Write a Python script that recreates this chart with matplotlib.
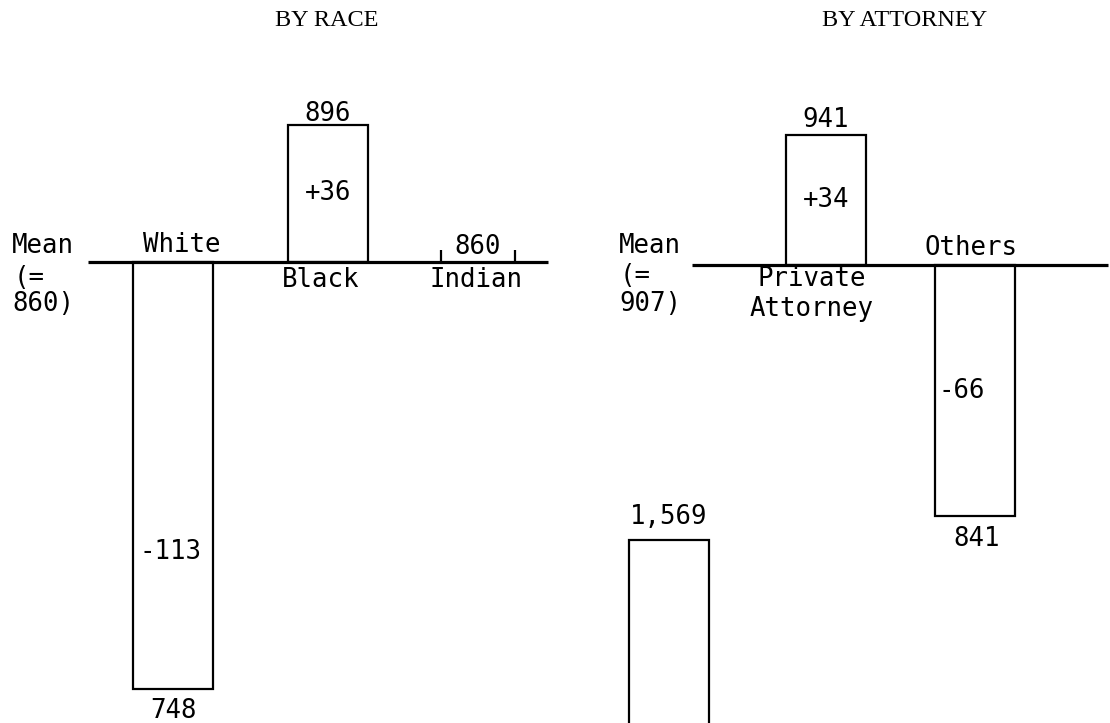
import matplotlib
matplotlib.use("Agg")
import matplotlib.pyplot as plt

# ---------------- data ----------------
race_categories = ["White", "Black", "Indian"]
race_values = [748, 896, 860]
race_mean = 860
race_dev_labels = ["-113", "+36", ""]

attorney_categories = ["Private\nAttorney", "Others"]
attorney_values = [941, 841]
attorney_mean = 907
attorney_dev_labels = ["+34", "-66"]

cutoff_value = 1569          # bar of the next (cut-off) panel
cutoff_label = "1,569"

# ---------------- layout ----------------
W, H, DPI = 1110, 723, 100
S = 3.81                     # pixels per unit
MONO = "DejaVu Sans Mono"
FS = 18.5

fig = plt.figure(figsize=(W / DPI, H / DPI), dpi=DPI)
fig.patch.set_facecolor("white")


def panel(base_px):
    ax = fig.add_axes([0, 0, 1, 1])
    ax.set_xlim(0, W)
    ax.set_ylim(-(H - base_px) / S, base_px / S)
    ax.axis("off")
    ax.patch.set_alpha(0)
    return ax


axp = fig.add_axes([0, 0, 1, 1])
axp.set_xlim(0, W)
axp.set_ylim(H, 0)
axp.axis("off")
axp.patch.set_alpha(0)


def ptext(x, y, s, **kw):
    kw.setdefault("ha", "center")
    kw.setdefault("va", "center")
    kw.setdefault("family", MONO)
    kw.setdefault("fontsize", FS)
    axp.text(x, y, s, color="black", **kw)


# titles
ptext(327, 20, "BY RACE", family="Liberation Serif", fontsize=17.5)
ptext(905, 20, "BY ATTORNEY", family="Liberation Serif", fontsize=17.5)

# ================= BY RACE =================
axL = panel(262)
axL.plot([88, 548], [0, 0], color="black", lw=2.3, solid_capstyle="butt")
race_x = [173, 328, 478]
race_inside_frac = [0.68, 0.5, 0.5]
race_name_pos = [(182, 245), (321, 280), (476, 280)]
for i, (cat, v) in enumerate(zip(race_categories, race_values)):
    h = v - race_mean
    x = race_x[i]
    if h != 0:
        axL.bar(x, h, width=80, bottom=0, fill=False, edgecolor="black", lw=1.6)
        if h > 0:
            axL.annotate(str(v), (x, h), xytext=(0, 8), textcoords="offset points",
                         ha="center", va="center", family=MONO, fontsize=FS)
        else:
            axL.annotate(str(v), (x, h), xytext=(0, -16), textcoords="offset points",
                         ha="center", va="center", family=MONO, fontsize=FS)
        axL.text(x - 3 if h < 0 else x, h * race_inside_frac[i], race_dev_labels[i],
                 ha="center", va="center", family=MONO, fontsize=FS)
    else:
        axL.vlines([x - 37, x + 37], 0, 3.2, color="black", lw=1.6)
        axL.annotate(str(v), (x, 0), xytext=(0, 11), textcoords="offset points",
                     ha="center", va="center", family=MONO, fontsize=FS)
    ptext(*race_name_pos[i], cat)

ptext(12, 246, "Mean", ha="left")
ptext(14, 278, "(=", ha="left")
ptext(12, 304, f"{race_mean})", ha="left")

# ================= BY ATTORNEY =================
axR = panel(265)
axR.plot([692, 1108], [0, 0], color="black", lw=2.3, solid_capstyle="butt")
att_x = [826, 975]
att_inside_x = [826, 962]
att_name_pos = [(812, 279), (971, 248)]
for i, (cat, v) in enumerate(zip(attorney_categories, attorney_values)):
    h = v - attorney_mean
    x = att_x[i]
    axR.bar(x, h, width=80, bottom=0, fill=False, edgecolor="black", lw=1.6)
    off = 11 if h > 0 else -16
    axR.annotate(str(v), (x + (0 if h > 0 else 2), h), xytext=(0, off),
                 textcoords="offset points", ha="center", va="center",
                 family=MONO, fontsize=FS)
    axR.text(att_inside_x[i], h * 0.5, attorney_dev_labels[i],
             ha="center", va="center", family=MONO, fontsize=FS)
    nx, ny = att_name_pos[i]
    for j, line in enumerate(cat.split("\n")):
        ptext(nx, ny + 30 * j, line)

ptext(619, 246, "Mean", ha="left")
ptext(620, 276, "(=", ha="left")
ptext(619, 304, f"{attorney_mean})", ha="left")

# ================= cut-off panel below =================
top_px = 540
axC = fig.add_axes([0, 0, 1, 1])
axC.set_xlim(0, W)
ylo = cutoff_value - (H - top_px) / S
axC.set_ylim(ylo, cutoff_value + top_px / S)
axC.axis("off")
axC.patch.set_alpha(0)
axC.bar(669, cutoff_value - (ylo - 20), width=80, bottom=ylo - 20,
        fill=False, edgecolor="black", lw=1.6)
axC.annotate(cutoff_label, (669, cutoff_value), xytext=(0, 16.5),
             textcoords="offset points", ha="center", va="center",
             family=MONO, fontsize=FS)

fig.savefig("out.png", dpi=DPI, facecolor="white")
